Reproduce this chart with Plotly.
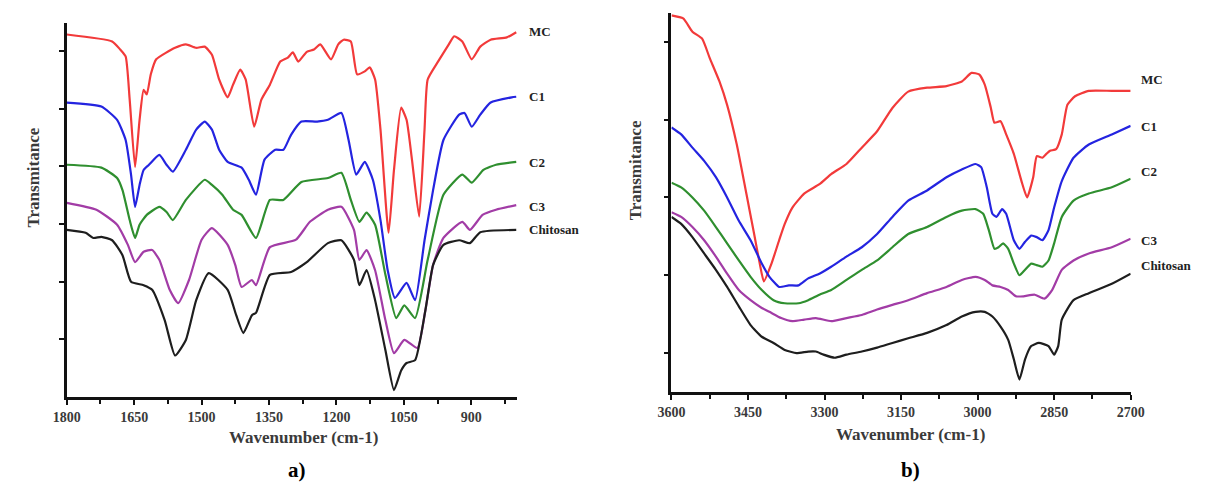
import plotly.graph_objects as go

# ---- Panel a: fingerprint region (1800-800 cm-1) ----
a_mc_wn = [1800, 1699, 1681, 1669, 1660, 1648, 1638, 1629, 1622, 1613, 1601, 1559, 1535, 1512, 1493,
           1477, 1461, 1442, 1430, 1414, 1402, 1383, 1367, 1348, 1325, 1308, 1297, 1285, 1266, 1250,
           1236, 1212, 1196, 1184, 1168, 1154, 1137, 1126, 1114, 1102, 1084, 1072, 1056, 1044, 1032,
           1016, 1004, 997, 974, 950, 938, 920, 899, 880, 857, 821, 800]
a_mc_t = [6.29, 6.17, 6.03, 5.91, 5.16, 3.99, 4.81, 5.33, 5.25, 5.60, 5.86, 6.06, 6.12, 6.06, 6.08,
          5.94, 5.51, 5.20, 5.42, 5.68, 5.51, 4.69, 5.16, 5.42, 5.82, 5.89, 5.98, 5.82, 5.99, 6.03,
          6.12, 5.86, 6.12, 6.20, 6.17, 5.60, 5.65, 5.72, 5.51, 4.64, 2.85, 3.94, 5.02, 4.81, 4.12,
          3.13, 4.64, 5.51, 5.82, 6.12, 6.26, 6.17, 5.86, 6.08, 6.20, 6.24, 6.33]

a_c1_wn = [1800, 1723, 1688, 1669, 1657, 1648, 1638, 1629, 1617, 1594, 1578, 1564, 1535, 1512, 1493,
           1477, 1461, 1442, 1411, 1395, 1379, 1360, 1336, 1318, 1301, 1278, 1243, 1219, 1189, 1173,
           1156, 1137, 1119, 1102, 1086, 1070, 1044, 1025, 1004, 985, 962, 927, 915, 899, 880, 857,
           810, 800]
a_c1_t = [5.11, 5.04, 4.81, 4.46, 3.86, 3.30, 3.68, 3.94, 4.03, 4.20, 4.03, 3.91, 4.29, 4.64, 4.78,
          4.64, 4.29, 4.08, 3.98, 3.77, 3.51, 4.12, 4.29, 4.29, 4.55, 4.78, 4.78, 4.81, 4.93, 4.46,
          3.86, 4.08, 3.77, 3.07, 2.20, 1.72, 1.98, 1.68, 2.72, 3.59, 4.46, 4.90, 4.93, 4.69, 4.90, 5.11,
          5.20, 5.21]

a_c2_wn = [1800, 1723, 1688, 1676, 1660, 1648, 1638, 1622, 1594, 1578, 1564, 1535, 1493, 1477, 1454,
           1430, 1411, 1379, 1348, 1318, 1278, 1219, 1189, 1168, 1149, 1133, 1114, 1091, 1067, 1049,
           1025, 997, 962, 920, 899, 873, 845, 800]
a_c2_t = [4.03, 3.98, 3.80, 3.59, 3.07, 2.76, 2.99, 3.16, 3.30, 3.21, 3.07, 3.42, 3.77, 3.68, 3.51,
          3.25, 3.16, 2.76, 3.42, 3.42, 3.73, 3.80, 3.89, 3.42, 3.04, 3.20, 2.99, 2.12, 1.37, 1.59,
          1.37, 2.38, 3.51, 3.86, 3.72, 3.94, 4.03, 4.08]

a_c3_wn = [1800, 1734, 1688, 1664, 1648, 1629, 1610, 1594, 1571, 1552, 1528, 1500, 1477, 1442, 1425,
           1411, 1388, 1379, 1348, 1290, 1259, 1219, 1189, 1161, 1149, 1133, 1114, 1091, 1072, 1049,
           1020, 1002, 985, 962, 920, 903, 875, 845, 800]
a_c3_t = [3.37, 3.25, 2.99, 2.64, 2.34, 2.52, 2.55, 2.38, 1.86, 1.63, 2.03, 2.73, 2.93, 2.64, 2.29,
          1.91, 2.03, 1.94, 2.60, 2.73, 3.04, 3.25, 3.30, 2.90, 2.38, 2.55, 2.20, 1.33, 0.76, 0.99,
          0.85, 1.51, 2.29, 2.76, 3.04, 2.90, 3.16, 3.25, 3.33]

a_ch_wn = [1800, 1758, 1741, 1723, 1699, 1676, 1657, 1629, 1610, 1582, 1559, 1535, 1512, 1484, 1442,
           1423, 1407, 1388, 1379, 1348, 1301, 1266, 1219, 1189, 1161, 1149, 1133, 1114, 1091, 1072,
           1056, 1044, 1025, 1002, 985, 962, 927, 903, 880, 800]
a_ch_t = [2.90, 2.85, 2.76, 2.78, 2.72, 2.46, 2.00, 1.94, 1.86, 1.33, 0.72, 0.99, 1.68, 2.15, 1.86,
          1.42, 1.11, 1.42, 1.46, 2.12, 2.17, 2.34, 2.67, 2.72, 2.38, 1.94, 2.20, 1.68, 0.81, 0.12,
          0.46, 0.59, 0.64, 1.51, 2.29, 2.64, 2.72, 2.67, 2.86, 2.90]

# ---- Panel b: O-H / C-H stretching region (3600-2700 cm-1) ----
b_mc_wn = [3600, 3577, 3559, 3540, 3525, 3506, 3491, 3472, 3453, 3438, 3427, 3419, 3404, 3389, 3378,
           3363, 3340, 3310, 3287, 3257, 3227, 3197, 3167, 3136, 3099, 3061, 3031, 3012, 2997, 2986,
           2974, 2967, 2955, 2944, 2929, 2914, 2903, 2891, 2884, 2873, 2865, 2858, 2846, 2835, 2824,
           2809, 2782, 2737, 2700]
b_mc_t = [5.34, 5.30, 5.13, 5.04, 4.79, 4.49, 4.19, 3.68, 3.04, 2.53, 2.15, 1.92, 2.15, 2.45, 2.66,
          2.87, 3.05, 3.17, 3.30, 3.43, 3.64, 3.85, 4.15, 4.36, 4.41, 4.43, 4.49, 4.60, 4.58, 4.45,
          4.15, 3.96, 3.98, 3.81, 3.56, 3.21, 3.00, 3.26, 3.53, 3.51, 3.56, 3.60, 3.62, 3.81, 4.19,
          4.30, 4.37, 4.37, 4.37]

b_c1_wn = [3600, 3581, 3559, 3536, 3513, 3491, 3468, 3445, 3423, 3408, 3389, 3370, 3351, 3332, 3310,
           3287, 3257, 3227, 3197, 3167, 3136, 3099, 3061, 3031, 3004, 2993, 2982, 2971, 2963, 2952,
           2944, 2929, 2918, 2907, 2895, 2884, 2873, 2861, 2850, 2835, 2812, 2782, 2737, 2700]
b_c1_t = [3.90, 3.81, 3.64, 3.47, 3.26, 3.00, 2.70, 2.45, 2.15, 1.98, 1.85, 1.87, 1.87, 1.96, 2.02,
          2.11, 2.24, 2.36, 2.53, 2.75, 2.96, 3.09, 3.26, 3.36, 3.43, 3.39, 3.13, 2.79, 2.75, 2.85,
          2.79, 2.45, 2.34, 2.43, 2.51, 2.49, 2.45, 2.58, 2.87, 3.21, 3.51, 3.68, 3.81, 3.92]

b_c2_wn = [3600, 3581, 3559, 3536, 3513, 3491, 3468, 3445, 3423, 3400, 3378, 3351, 3332, 3310, 3287,
           3257, 3227, 3197, 3167, 3136, 3099, 3061, 3031, 3004, 2989, 2978, 2967, 2959, 2950, 2940,
           2929, 2918, 2907, 2895, 2884, 2873, 2861, 2850, 2835, 2812, 2782, 2737, 2700]
b_c2_t = [3.19, 3.13, 3.00, 2.83, 2.62, 2.41, 2.19, 1.98, 1.81, 1.68, 1.64, 1.64, 1.68, 1.75, 1.81,
          1.94, 2.07, 2.19, 2.36, 2.53, 2.62, 2.75, 2.83, 2.85, 2.79, 2.58, 2.34, 2.36, 2.41, 2.34,
          2.15, 2.00, 2.07, 2.15, 2.13, 2.11, 2.19, 2.41, 2.75, 2.96, 3.05, 3.13, 3.24]

b_c3_wn = [3600, 3581, 3559, 3536, 3513, 3491, 3468, 3445, 3423, 3408, 3385, 3363, 3340, 3317, 3287,
           3257, 3227, 3197, 3167, 3136, 3099, 3061, 3031, 3004, 2986, 2971, 2955, 2940, 2925, 2910,
           2888, 2869, 2854, 2835, 2812, 2782, 2737, 2700]
b_c3_t = [2.81, 2.75, 2.62, 2.45, 2.24, 2.02, 1.81, 1.68, 1.58, 1.53, 1.45, 1.41, 1.43, 1.45, 1.41,
          1.45, 1.49, 1.56, 1.62, 1.68, 1.77, 1.85, 1.94, 1.98, 1.94, 1.87, 1.85, 1.81, 1.73, 1.73,
          1.75, 1.70, 1.81, 2.07, 2.19, 2.28, 2.36, 2.47]

b_ch_wn = [3600, 3581, 3559, 3536, 3513, 3491, 3468, 3445, 3423, 3400, 3378, 3355, 3332, 3317, 3302,
           3280, 3257, 3227, 3197, 3167, 3136, 3099, 3061, 3031, 3004, 2986, 2971, 2955, 2940, 2929,
           2918, 2907, 2895, 2880, 2861, 2850, 2842, 2835, 2812, 2782, 2737, 2700]
b_ch_t = [2.75, 2.66, 2.49, 2.28, 2.07, 1.85, 1.60, 1.36, 1.21, 1.13, 1.04, 1.00, 1.02, 1.02, 0.98,
          0.94, 0.98, 1.02, 1.07, 1.13, 1.19, 1.26, 1.36, 1.47, 1.53, 1.53, 1.47, 1.34, 1.17, 0.92,
          0.66, 0.92, 1.09, 1.13, 1.09, 0.98, 1.09, 1.43, 1.68, 1.77, 1.89, 2.02]

series_names = ["MC", "C1", "C2", "C3", "Chitosan"]
series_colors = ["#f23a3a", "#2424e0", "#2f8f2f", "#a23ca6", "#1e1e1e"]

panel_a = [(a_mc_wn, a_mc_t), (a_c1_wn, a_c1_t), (a_c2_wn, a_c2_t), (a_c3_wn, a_c3_t), (a_ch_wn, a_ch_t)]
panel_b = [(b_mc_wn, b_mc_t), (b_c1_wn, b_c1_t), (b_c2_wn, b_c2_t), (b_c3_wn, b_c3_t), (b_ch_wn, b_ch_t)]

# label heights next to the right end of each curve
a_label_y = [6.35, 5.22, 4.07, 3.30, 2.90]
b_label_y = [4.51, 3.91, 3.33, 2.45, 2.13]

a_ticks = [1800, 1650, 1500, 1350, 1200, 1050, 900]
b_ticks = [3600, 3450, 3300, 3150, 3000, 2850, 2700]

x_title = "Wavenumber (cm-1)"
y_title = "Transmitance"

W, H = 1215, 486
SERIF = "Liberation Serif, Times New Roman, serif"

fig = go.Figure()

for (wn, t), name, col in zip(panel_a, series_names, series_colors):
    fig.add_trace(go.Scatter(x=wn, y=t, mode="lines", name=name, xaxis="x", yaxis="y",
                             line=dict(color=col, width=2.2, shape="spline", smoothing=0.5),
                             showlegend=False, hoverinfo="skip"))
for (wn, t), name, col in zip(panel_b, series_names, series_colors):
    fig.add_trace(go.Scatter(x=wn, y=t, mode="lines", name=name, xaxis="x2", yaxis="y2",
                             line=dict(color=col, width=2.2, shape="spline", smoothing=0.5),
                             showlegend=False, hoverinfo="skip"))


def px_x(p):
    return p / W


def px_y(p):
    return 1 - p / H


tick_font = dict(family=SERIF, size=14, color="#3a3a3a", weight="bold")
title_font = dict(family=SERIF, size=17, color="#3a3a3a", weight="bold")

common_x = dict(showline=True, linecolor="#111111", linewidth=2.5, ticks="outside", ticklen=5,
                tickwidth=2, tickcolor="#111111", showgrid=False, zeroline=False,
                tickfont=tick_font,
                minor=dict(ticks="outside", ticklen=4, tickwidth=2, tickcolor="#111111", dtick=75))
common_y = dict(showline=True, linecolor="#111111", linewidth=2.5, ticks="outside", ticklen=5,
                tickwidth=2, tickcolor="#111111", showgrid=False, zeroline=False,
                showticklabels=False)

fig.update_layout(
    width=W, height=H, margin=dict(l=0, r=0, t=0, b=0),
    paper_bgcolor="white", plot_bgcolor="white",
    xaxis=dict(common_x, domain=[px_x(54), px_x(515)], range=[1800, 798], anchor="y",
               tickmode="array", tickvals=a_ticks,
               minor=dict(common_x["minor"], tick0=1800)),
    yaxis=dict(common_y, domain=[px_y(397), px_y(23)], range=[0, 6.49], anchor="x",
               tickmode="array", tickvals=[1, 2, 3, 4, 5, 6]),
    xaxis2=dict(common_x, domain=[px_x(673), px_x(1143)], range=[3600, 2700], anchor="y2",
                tickmode="array", tickvals=b_ticks,
                minor=dict(common_x["minor"], tick0=3600)),
    yaxis2=dict(common_y, domain=[px_y(392), px_y(13)], range=[0.5, 5.37], anchor="x2",
                tickmode="array", tickvals=[1, 2, 3, 4, 5]),
)

# axis titles
for cx, cy in [(296, 437), (918, 434)]:
    fig.add_annotation(x=px_x(cx), y=px_y(cy), xref="paper", yref="paper", text=x_title,
                       showarrow=False, xanchor="center", yanchor="middle", font=title_font)
for cx, cy in [(19, 178), (636, 170)]:
    fig.add_annotation(x=px_x(cx), y=px_y(cy), xref="paper", yref="paper", text=y_title,
                       textangle=-90, showarrow=False, xanchor="center", yanchor="middle",
                       font=title_font)

label_font = dict(family=SERIF, size=13, color="#222222", weight="bold")
for name, ya in zip(series_names, a_label_y):
    fig.add_annotation(x=798, y=ya, xref="x", yref="y", text=name, showarrow=False,
                       xanchor="left", yanchor="middle", xshift=10, font=label_font)
for name, yb in zip(series_names, b_label_y):
    fig.add_annotation(x=2700, y=yb, xref="x2", yref="y2", text=name, showarrow=False,
                       xanchor="left", yanchor="middle", xshift=8, font=label_font)

panel_font = dict(family=SERIF, size=21, color="#000000", weight="bold")
fig.add_annotation(x=px_x(290), y=px_y(470), xref="paper", yref="paper", text="a)",
                   showarrow=False, xanchor="center", yanchor="middle", font=panel_font)
fig.add_annotation(x=px_x(918), y=px_y(470), xref="paper", yref="paper", text="b)",
                   showarrow=False, xanchor="center", yanchor="middle", font=panel_font)

fig.write_html("out.html")
